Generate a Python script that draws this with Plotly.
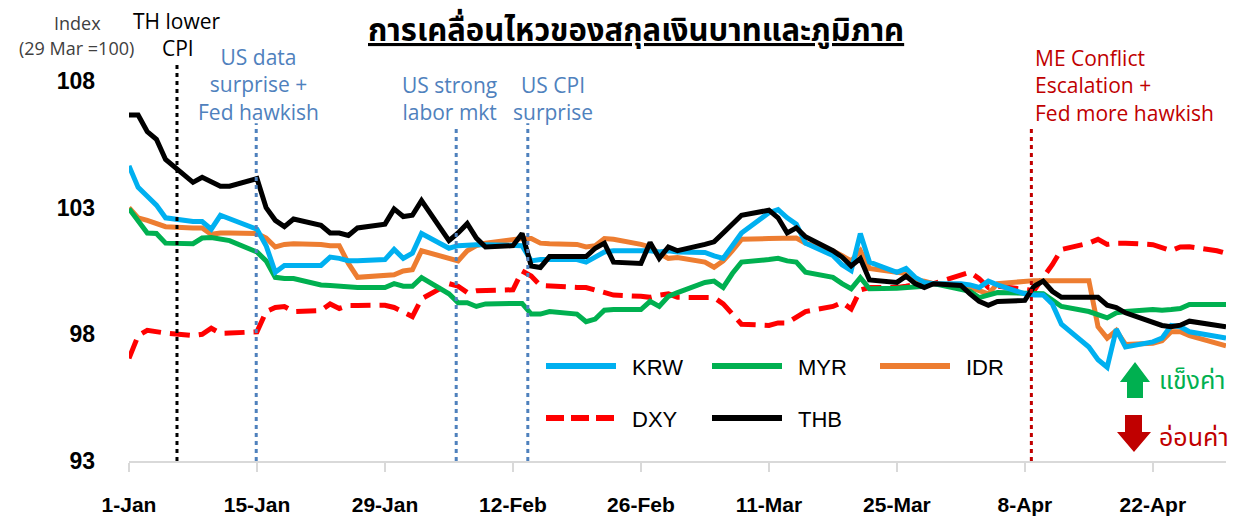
import pandas as pd
import plotly.graph_objects as go

# ---------------- data ----------------
dates = pd.bdate_range("2024-01-01", "2024-04-30")

THB = [106.66, 106.66, 106.0, 105.7, 104.9,
       104.0, 104.2, 104.05, 103.85, 103.85,
       104.15, 103.0, 102.5, 102.25, 102.55,
       102.3, 102.0, 102.0, 101.9, 102.2,
       102.35, 102.95, 102.65, 102.7, 103.28,
       101.7, 102.0, 102.37, 101.8, 101.45,
       101.5, 101.98, 100.7, 100.64, 101.07,
       101.07, 101.07, 101.4, 101.6, 100.85,
       100.8, 101.62, 101.0, 101.45, 101.3,
       101.55, 101.65, 102.0, 102.35, 102.7,
       102.9, 102.6, 102.0, 102.2, 101.85,
       101.3, 101.05, 100.7, 100.99, 100.15,
       100.05, 100.3, 100.0, 99.85, 100.0,
       99.93, 99.6, 99.3, 99.15, 99.3,
       99.34, 99.9, 100.1, 99.7, 99.46,
       99.46, 99.46, 99.15, 99.06, 98.85,
       98.5, 98.35, 98.3, 98.36, 98.52,
       98.35, 98.3]

KRW = [104.65, 103.8, 103.45, 103.1, 102.6,
       102.45, 102.45, 102.15, 102.7, 102.55,
       102.15, 101.5, 100.45, 100.72, 100.72,
       100.72, 101.05, 101.0, 100.9, 100.9,
       100.95, 101.35, 101.0, 101.2, 101.98,
       101.4, 101.5, 101.54, 101.54, 101.54,
       101.54, 101.5, 100.9, 100.95, 100.95,
       100.95, 100.85, 101.05, 101.25, 101.3,
       101.3, 101.3, 101.25, 101.3, 101.25,
       101.23, 101.1, 101.0, 101.5, 102.0,
       102.8, 102.92, 102.6, 102.35, 101.6,
       101.11, 100.75, 100.52, 101.98, 100.85,
       100.45, 100.6, 100.25, 100.05, 100.0,
       100.0, 99.95, 99.85, 100.1, 99.95,
       99.6, 99.55, 99.55, 99.2, 98.4,
       97.5, 97.0, 96.7, 98.2, 97.5,
       97.7, 97.85, 98.35, 98.3, 98.1,
       97.9, 97.85]

MYR = [102.96, 102.5, 102.0, 101.98, 101.6,
       101.58, 101.8, 101.82, 101.75, 101.7,
       101.25, 100.9, 100.25, 100.2, 100.2,
       99.95, 99.93, 99.9, 99.85, 99.85,
       99.85, 100.0, 99.9, 99.9, 100.24,
       99.6, 99.25, 99.25, 99.1, 99.2,
       99.22, 99.22, 98.8, 98.8, 98.9,
       98.8, 98.5, 98.6, 98.95, 98.98,
       98.98, 99.3, 99.1, 99.5, 99.65,
       100.05, 100.1, 99.85, 100.4, 100.85,
       100.95, 101.0, 100.9, 100.85, 100.45,
       100.25, 100.0, 99.8, 100.24, 99.8,
       99.82, 99.85, 99.85, 99.9, 100.0,
       99.75, 99.7, 99.45, 99.55, 99.65,
       99.62, 99.6, 99.6, 99.35, 99.1,
       98.9, 98.75, 98.65, 98.85, 98.9,
       98.98, 98.95, 98.98, 99.02, 99.18,
       99.18, 99.18]

IDR = [103.0, 102.6, 102.5, 102.4, 102.25,
       102.2, 102.2, 101.95, 102.0, 102.0,
       101.98, 101.8, 101.45, 101.55, 101.58,
       101.55, 101.5, 101.5, 100.8, 100.25,
       100.3, 100.35, 100.5, 100.55, 101.3,
       101.0, 100.9, 101.3, 101.5, 101.6,
       101.75, 101.78, 101.78, 101.6, 101.58,
       101.55, 101.45, 101.5, 101.78, 101.75,
       101.55, 101.45, 101.2, 101.0, 101.03,
       100.85, 100.65, 100.9, 101.3, 101.75,
       101.78, 101.78, 101.8, 101.8, 101.6,
       101.3, 101.1, 100.9, 101.3, 100.6,
       100.45, 100.4, 100.15, 100.1, 100.0,
       99.95, 99.85, 99.73, 99.6, 100.0,
       100.12, 100.12, 100.12, 100.12, 100.12,
       100.12, 98.3, 97.85, 98.15, 97.6,
       97.65, 97.75, 98.1, 98.1, 97.95,
       97.65, 97.55]

DXY = [97.05, 97.95, 98.16, 98.1, 98.05,
       97.95, 98.0, 98.24, 98.04, 98.05,
       98.1, 98.9, 99.06, 99.1, 98.9,
       98.94, 99.2, 99.02, 99.14, 99.14,
       99.15, 99.06, 98.9, 98.7, 99.4,
       100.0, 99.9, 99.65, 99.72, 99.72,
       99.76, 100.5, 100.3, 99.93, 99.9,
       99.85, 99.85, 99.75, 99.6, 99.55,
       99.5, 99.46, 99.55, 99.6, 99.46,
       99.46, 99.45, 99.2, 98.8, 98.4,
       98.35, 98.45, 98.45, 98.7, 98.9,
       99.1, 99.26, 99.0, 99.75, 99.85,
       99.85, 99.9, 100.0, 100.05, 100.0,
       100.3, 100.45, 100.2, 99.85, 99.9,
       99.75, 99.73, 100.25, 100.75, 101.35,
       101.6, 101.75, 101.55, 101.6, 101.6,
       101.54, 101.4, 101.3, 101.45, 101.46,
       101.3, 101.2]

tick_dates = ["2024-01-01", "2024-01-15", "2024-01-29", "2024-02-12", "2024-02-26",
              "2024-03-11", "2024-03-25", "2024-04-08", "2024-04-22"]
tick_text = ["1-Jan", "15-Jan", "29-Jan", "12-Feb", "26-Feb", "11-Mar", "25-Mar", "8-Apr", "22-Apr"]
y_ticks = [93, 98, 103, 108]

events = [
    ("2024-01-06 06:00", "black", 1.047),
    ("2024-01-14 22:00", "#4F81BD", 0.889),
    ("2024-02-05 19:00", "#4F81BD", 0.884),
    ("2024-02-13 15:00", "#4F81BD", 0.889),
    ("2024-04-08 17:00", "#C00000", 0.884),
]

series = [
    ("KRW", KRW, "#00B0F0", "solid"),
    ("MYR", MYR, "#00B050", "solid"),
    ("IDR", IDR, "#ED7D31", "solid"),
    ("DXY", DXY, "#FF0000", "20px,9px"),
    ("THB", THB, "#000000", "solid"),
]

# ---------------- layout helpers (pixel -> paper) ----------------
L, R, T, B = 129, 1226, 81, 461
W, H = R - L, B - T


def px(x):
    return (x - L) / W


def py(y):
    return (B - y) / H


fig = go.Figure()
draw_order = ["DXY", "IDR", "MYR", "KRW", "THB"]
lookup = {s[0]: s for s in series}
for name in draw_order:
    n, vals, col, dash = lookup[name]
    fig.add_trace(go.Scatter(x=dates, y=vals, mode="lines", name=n,
                             line=dict(color=col, width=5, dash=dash),
                             showlegend=False))

shapes = []
for d, col, top in events:
    shapes.append(dict(type="line", xref="x", yref="paper", x0=d, x1=d, y0=0, y1=top,
                       line=dict(color=col, width=3, dash="4px,4px")))

# custom legend
leg = [("KRW", 546, 366, "#00B0F0", "solid"), ("MYR", 712, 366, "#00B050", "solid"),
       ("IDR", 880, 366, "#ED7D31", "solid"), ("DXY", 546, 418, "#FF0000", "18px,7px"),
       ("THB", 712, 418, "#000000", "solid")]
annotations = []
for name, x0, yy, col, dash in leg:
    shapes.append(dict(type="line", xref="paper", yref="paper", x0=px(x0), x1=px(x0 + 70),
                       y0=py(yy), y1=py(yy), line=dict(color=col, width=6, dash=dash)))
    annotations.append(dict(x=px(x0 + 84), y=py(yy + 1), text=name, xanchor="left",
                            font=dict(family="Liberation Sans, Arial", size=22, color="black")))

# arrows
up = [(1127, 398), (1127, 382), (1120, 382), (1135, 362), (1150, 382), (1143, 382), (1143, 398)]
dn = [(1125, 415), (1125, 432), (1117, 432), (1134, 452), (1151, 432), (1142, 432), (1142, 415)]


def path(pts):
    return "M " + " L ".join(f"{px(a):.5f},{py(b):.5f}" for a, b in pts) + " Z"


shapes.append(dict(type="path", xref="paper", yref="paper", path=path(up),
                   fillcolor="#00B050", line=dict(width=0)))
shapes.append(dict(type="path", xref="paper", yref="paper", path=path(dn),
                   fillcolor="#C00000", line=dict(width=0)))

thai = "Noto Sans Thai, Tahoma, Leelawadee UI, sans-serif"
txt = "Open Sans, Noto Sans, sans-serif"
annotations += [
    dict(x=px(1157), y=py(381), text="แข็งค่า", font=dict(family=thai, size=25, color="#00B050"),
         xanchor="left"),
    dict(x=px(1157), y=py(438), text="อ่อนค่า", font=dict(family=thai, size=25, color="#C00000"),
         xanchor="left"),
    dict(x=px(636), y=py(31), text="<b><u>การเคลื่อนไหวของสกุลเงินบาทและภูมิภาค</u></b>",
         font=dict(family=thai, size=31, color="black")),
    dict(x=px(77), y=py(23), text="Index", font=dict(family=txt, size=18, color="#404040")),
    dict(x=px(76), y=py(48), text="(29 Mar =100)", font=dict(family=txt, size=18, color="#404040")),
    dict(x=px(177), y=py(21), text="TH lower", font=dict(family=txt, size=21, color="black")),
    dict(x=px(178), y=py(48), text="CPI", font=dict(family=txt, size=21, color="black")),
    dict(x=px(258), y=py(84), text="US data<br>surprise +<br>Fed hawkish",
         font=dict(family=txt, size=21, color="#4F81BD")),
    dict(x=px(449), y=py(98), text="US strong<br>labor mkt",
         font=dict(family=txt, size=21, color="#4F81BD")),
    dict(x=px(553), y=py(98), text="US CPI<br>surprise",
         font=dict(family=txt, size=21, color="#4F81BD")),
    dict(x=px(1033), y=py(85), text="ME Conflict<br>Escalation +<br>Fed more hawkish",
         font=dict(family=txt, size=21, color="#C00000"), xanchor="left", align="left"),
]
for a in annotations:
    a.setdefault("xref", "paper")
    a.setdefault("yref", "paper")
    a.setdefault("showarrow", False)
    a.setdefault("xanchor", "center")
    a.setdefault("yanchor", "middle")

fig.update_layout(
    width=1245, height=522,
    margin=dict(l=L, r=1245 - R, t=T, b=522 - B, autoexpand=False),
    plot_bgcolor="white", paper_bgcolor="white",
    shapes=shapes, annotations=annotations,
    showlegend=False,
)
fig.update_xaxes(type="date", range=["2024-01-01", "2024-04-30"],
                 tickvals=tick_dates, ticktext=tick_text, automargin=False,
                 showgrid=False, zeroline=False,
                 showline=True, linecolor="#D9D9D9", linewidth=1.5,
                 ticks="outside", ticklen=9, tickcolor="#D9D9D9", tickwidth=1.5,
                 ticklabelstandoff=15,
                 tickfont=dict(family="Liberation Sans, Arial", size=21, color="black", weight="bold"))
fig.update_yaxes(range=[93, 108], tickvals=y_ticks, showgrid=False, zeroline=False,
                 showline=False, ticks="", ticklabelstandoff=33, automargin=False,
                 tickfont=dict(family="Liberation Sans, Arial", size=23, color="black", weight="bold"))

fig.write_html("out.html", config={"displayModeBar": False},
               post_script="document.body.style.margin='0';")
